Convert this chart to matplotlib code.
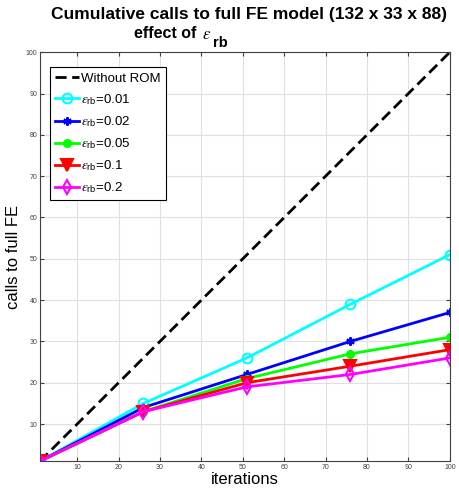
import matplotlib
matplotlib.use('Agg')
import matplotlib.pyplot as plt

# data
iters = [1, 26, 51, 76, 100]
no_rom_x = [1, 100]
no_rom_y = [1, 100]
eps_labels = ['0.01', '0.02', '0.05', '0.1', '0.2']
calls_001 = [1, 15, 26, 39, 51]
calls_002 = [1, 14, 22, 30, 37]
calls_005 = [1, 13, 21, 27, 31]
calls_01 = [1, 13, 20, 24, 28]
calls_02 = [1, 13, 19, 22, 26]

plt.rcParams['font.family'] = ['Liberation Sans', 'DejaVu Sans']
plt.rcParams['mathtext.fontset'] = 'custom'
plt.rcParams['mathtext.rm'] = 'Liberation Sans'
plt.rcParams['mathtext.it'] = 'STIXGeneral:italic'
plt.rcParams['mathtext.bf'] = 'Liberation Sans:bold'

fig = plt.figure(figsize=(4.59, 4.97), dpi=100)
ax = fig.add_axes([0.087, 0.072, 0.893, 0.823])

ax.plot(no_rom_x, no_rom_y, 'k--', lw=2, dashes=(4, 2), label='Without ROM')
series = [
    (calls_001, 'cyan', 'o', 'none', 7),
    (calls_002, 'blue', (6, 2, 0), 'blue', 6),
    (calls_005, 'lime', 'o', 'lime', 5),
    (calls_01, 'red', 'v', 'red', 8),
    (calls_02, 'magenta', 'd', 'none', 7),
]
for (vals, col, mk, fc, ms), eps in zip(series, eps_labels):
    ax.plot(iters, vals, color=col, lw=2, marker=mk, mfc=fc, mec=col, ms=ms,
            mew=1.5, label=r'$\epsilon_{\mathrm{rb}}$=' + eps)

ax.set_xlim(1, 100)
ax.set_ylim(1, 100)
ax.set_xticks(range(10, 101, 10))
ax.set_yticks(range(10, 101, 10))
ax.tick_params(direction='in', labelsize=5, colors='#404040', top=True, right=True,
               length=3, pad=2)
ax.grid(True, color='#e0e0e0', lw=0.8)
for s in ax.spines.values():
    s.set_color('#404040')

ax.set_xlabel('iterations', fontsize=12, labelpad=1)
ax.set_ylabel('calls to full FE', fontsize=12, labelpad=3)

# title, two lines like the original
fig.text(0.543, 0.962, 'Cumulative calls to full FE model (132 x 33 x 88)',
         ha='center', va='baseline', fontsize=12.5, fontweight='bold')
fig.text(0.292, 0.924, 'effect of', ha='left', va='baseline',
         fontsize=11.5, fontweight='bold')
fig.text(0.440, 0.921, r'$\epsilon$', ha='left', va='baseline', fontsize=12)
fig.text(0.464, 0.906, 'rb', ha='left', va='baseline',
         fontsize=10.5, fontweight='bold')

leg = ax.legend(loc='upper left', bbox_to_anchor=(0.024, 0.963), borderaxespad=0,
                fontsize=9.5, handlelength=1.8, handletextpad=0.2,
                labelspacing=0.55, borderpad=0.4, fancybox=False,
                edgecolor='black', framealpha=1)
leg.get_frame().set_linewidth(0.8)

fig.savefig('out.png', dpi=100)
